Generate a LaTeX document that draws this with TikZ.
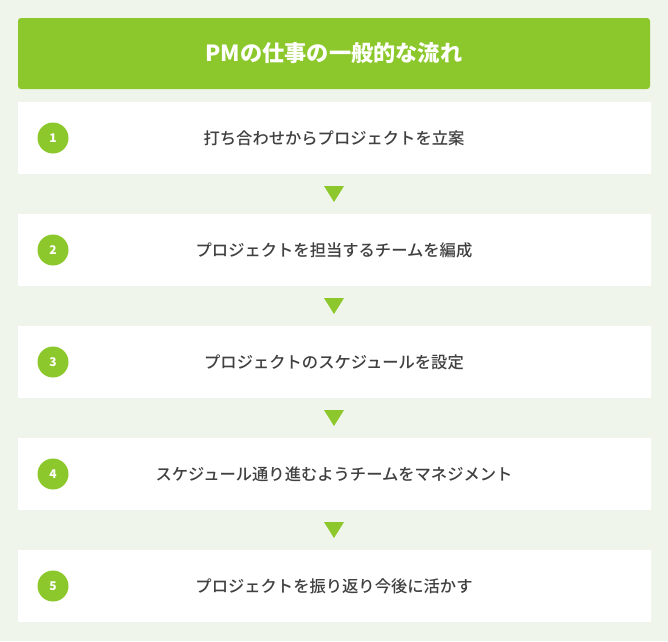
\documentclass[tikz,border=0pt]{standalone}
\usepackage{fontspec}
\setmainfont{Noto Sans CJK JP}
\newfontfamily\jpmed{Noto Sans CJK JP Medium}
\definecolor{bgc}{HTML}{EFF5EA}
\definecolor{grn}{HTML}{8CC82B}
\definecolor{txt}{HTML}{404040}
\begin{document}
\begin{tikzpicture}[x=1pt,y=-1pt,
  header/.style={fill=grn,rounded corners=3pt,draw=none},
  stepbox/.style={fill=white,draw=none,minimum width=633pt,minimum height=72pt,inner sep=0pt},
  numc/.style={circle,fill=grn,minimum size=31pt,inner sep=0pt,text=white,font=\bfseries\fontsize{12}{12}\selectfont},
  steptext/.style={text=txt,font=\jpmed\fontsize{16.3}{16.3}\selectfont},
  tri/.style={fill=grn,draw=none}]
\fill[bgc] (0,0) rectangle (668,641);
\useasboundingbox (0,0) rectangle (668,641);
\node[header,minimum width=632pt,minimum height=71pt,inner sep=0pt] (h) at (334,53.5) {};
\node[text=white,font=\bfseries\fontsize{22.2}{22.2}\selectfont] (ht) at (h.center) {PMの仕事の一般的な流れ};
\foreach \i/\t in {1/打ち合わせからプロジェクトを立案,2/プロジェクトを担当するチームを編成,3/プロジェクトのスケジュールを設定,4/スケジュール通り進むようチームをマネジメント,5/プロジェクトを振り返り今後に活かす}{
  \pgfmathsetmacro{\yy}{138+112*(\i-1)}
  \node[stepbox] (b\i) at (334.5,\yy) {};
  \node[numc] (n\i) at (53,\yy) {\i};
  \node[steptext] (t\i) at (334,\yy) {\t};
}
\foreach \i in {1,2,3,4}{
  \pgfmathsetmacro{\ty}{186+112*(\i-1)}
  \coordinate (a\i) at (334,\ty);
  \fill[tri] ([xshift=-10pt]a\i) -- ([xshift=10pt]a\i) -- ([yshift=-16pt]a\i) -- cycle;
}
\end{tikzpicture}
\end{document}
